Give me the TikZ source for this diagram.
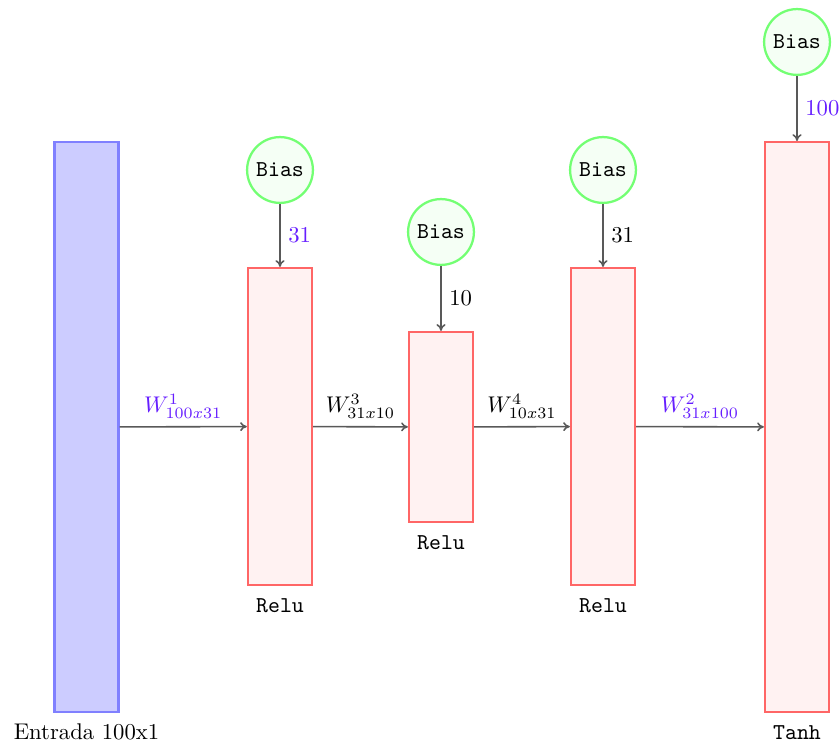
\documentclass[tikz,border=0pt]{standalone}
\usepackage{xcolor}
\usepackage{tikz}
\usetikzlibrary{positioning,arrows.meta}
\definecolor{wlabel}{RGB}{102,30,255}

\begin{document}
\begin{tikzpicture}[x=0.4405pt, y=-0.4405pt,
    inlayer/.style={draw=blue!50, fill=blue!20, line width=1pt,
                    minimum width=28.2pt, minimum height=251pt, inner sep=0pt},
    layer/.style={draw=red!60, fill=red!5, line width=1pt,
                  minimum width=28.2pt, inner sep=0pt},
    bias/.style={circle, draw=green!55, fill=green!4, line width=1pt,
                 minimum size=29pt, inner sep=0pt, font=\ttfamily},
    conn/.style={-{To[length=3pt,width=4pt]}, draw=black!65, line width=0.7pt},
    act/.style={font=\ttfamily, below=2pt}]
  \useasboundingbox (0,0) rectangle (840,742);

  % layers
  \node[inlayer] (entrada) at (86.5,427) {};
  \node[layer, minimum height=139.6pt] (hid1) at (280,426.5) {};
  \node[layer, minimum height=83.7pt] (hid2) at (441,427) {};
  \node[layer, minimum height=139.6pt] (hid3) at (603,426.5) {};
  \node[layer, minimum height=251pt] (salida) at (797,427) {};

  % labels under the layers
  \node[below=1pt] at (entrada.south) {Entrada 100x1};
  \node[act] at (hid1.south) {Relu};
  \node[act] at (hid2.south) {Relu};
  \node[act] at (hid3.south) {Relu};
  \node[act] at (salida.south) {Tanh};

  % bias units
  \node[bias] (b1) at (280,170) {Bias};
  \node[bias] (b2) at (441,232) {Bias};
  \node[bias] (b3) at (603,170) {Bias};
  \node[bias] (b4) at (797,42) {Bias};

  \draw[conn] (b1) -- node[right, text=wlabel] {31} (hid1);
  \draw[conn] (b2) -- node[right] {10} (hid2);
  \draw[conn] (b3) -- node[right] {31} (hid3);
  \draw[conn] (b4) -- node[right, text=wlabel] {100} (salida);

  % weights
  \draw[conn] (entrada) -- node[above, text=wlabel] {$W^1_{100x31}$} (hid1);
  \draw[conn] (hid1) -- node[above] {$W^3_{31x10}$} (hid2);
  \draw[conn] (hid2) -- node[above] {$W^4_{10x31}$} (hid3);
  \draw[conn] (hid3) -- node[above, text=wlabel] {$W^2_{31x100}$} (salida);
\end{tikzpicture}
\end{document}
